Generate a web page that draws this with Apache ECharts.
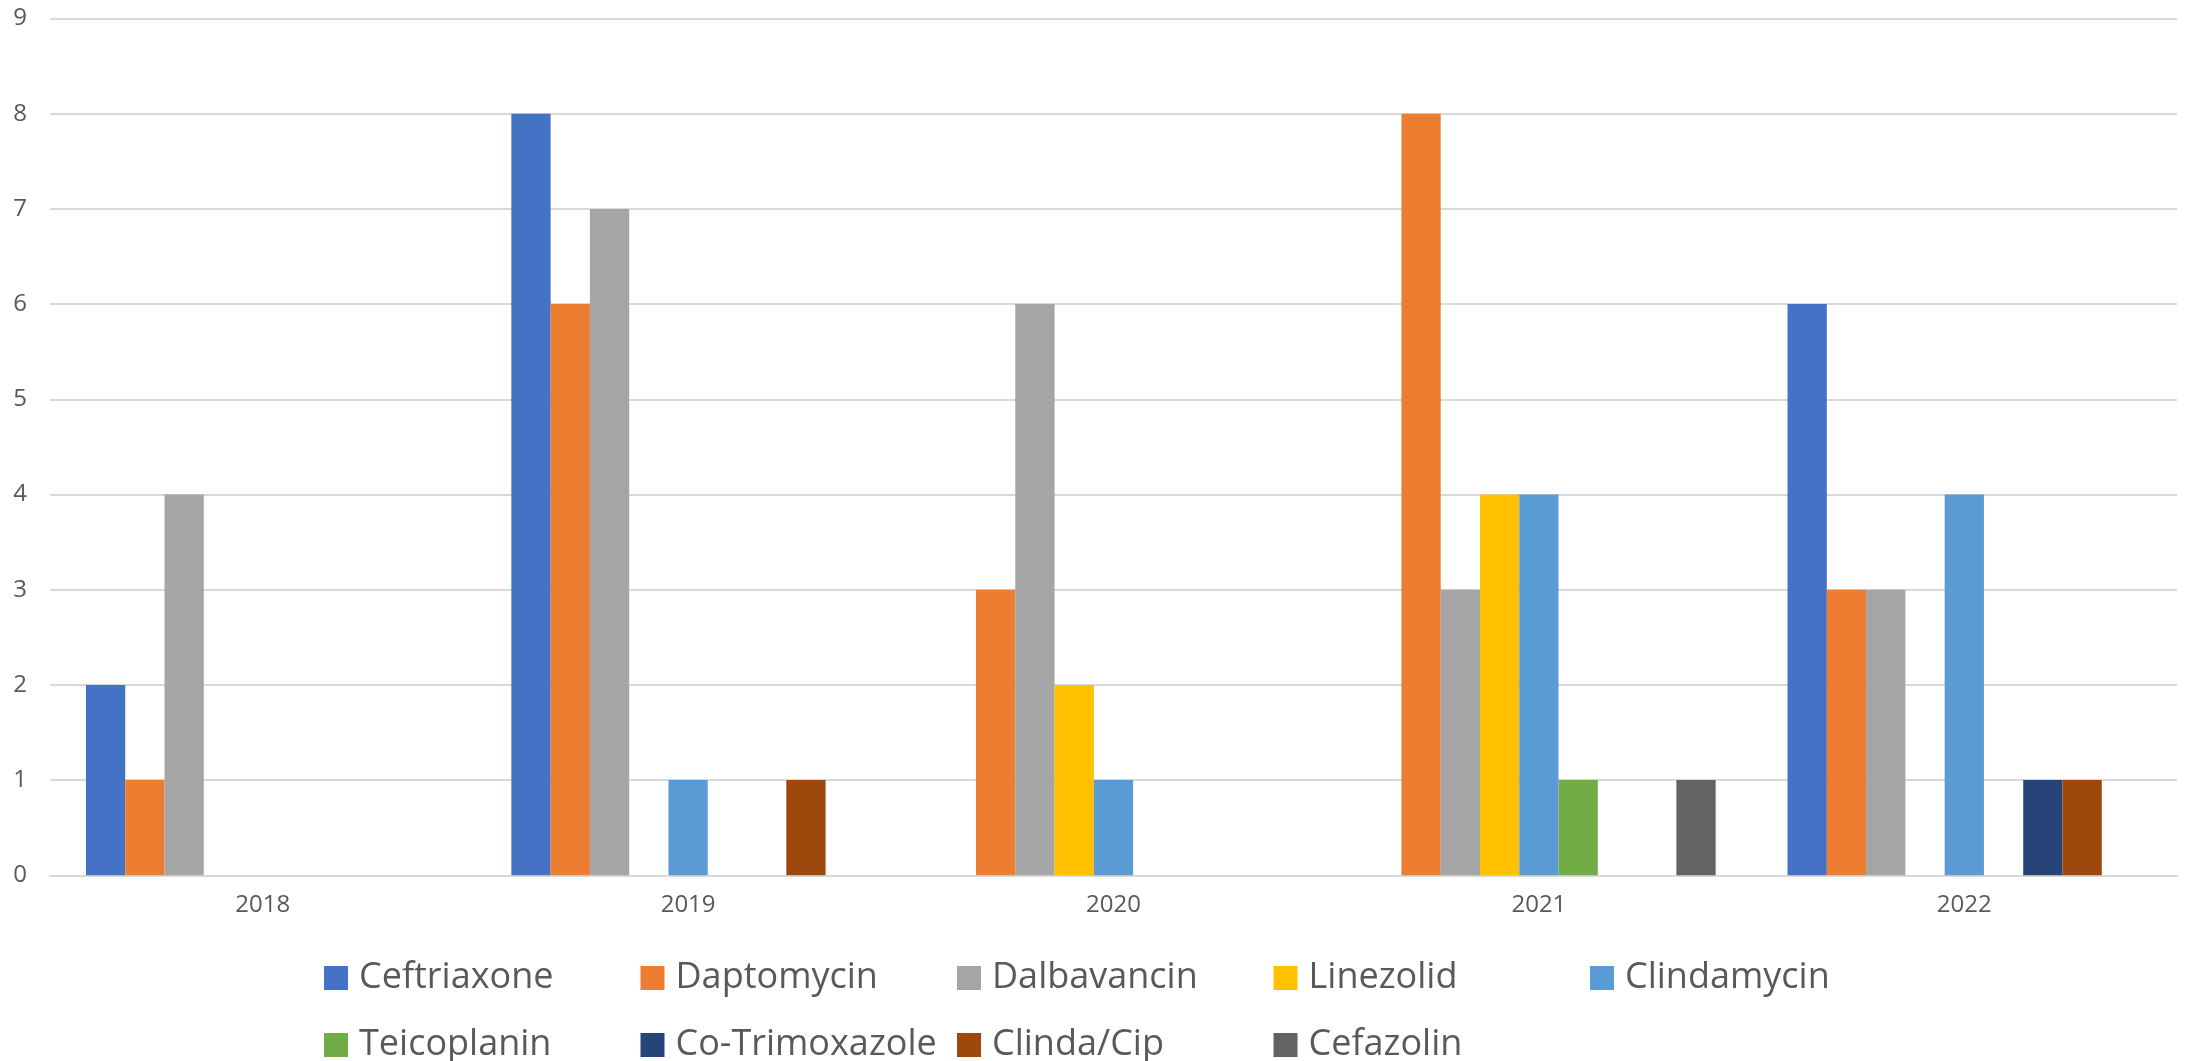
<!DOCTYPE html>
<html>
<head>
<meta charset="utf-8">
<script src="https://cdn.jsdelivr.net/npm/echarts@6/dist/echarts.min.js"></script>
<style>
  html, body { margin: 0; padding: 0; background: #fff; }
  #chart { width: 2188px; height: 1061px; }
</style>
</head>
<body>
<div id="chart"></div>
<script>
// Antibiotic use counts per year
const years = ['2018', '2019', '2020', '2021', '2022'];
const drugNames = ['Ceftriaxone', 'Daptomycin', 'Dalbavancin', 'Linezolid', 'Clindamycin',
                   'Teicoplanin', 'Co-Trimoxazole', 'Clinda/Cip', 'Cefazolin'];
const ceftriaxone   = [2, 8, 0, 0, 6];
const daptomycin    = [1, 6, 3, 8, 3];
const dalbavancin   = [4, 7, 6, 3, 3];
const linezolid     = [0, 0, 2, 4, 0];
const clindamycin   = [0, 1, 1, 4, 4];
const teicoplanin   = [0, 0, 0, 1, 0];
const coTrimoxazole = [0, 0, 0, 0, 1];
const clindaCip     = [0, 1, 0, 0, 1];
const cefazolin     = [0, 0, 0, 1, 0];
const yTicks = [0, 1, 2, 3, 4, 5, 6, 7, 8, 9];

const seriesValues = [ceftriaxone, daptomycin, dalbavancin, linezolid, clindamycin,
                      teicoplanin, coTrimoxazole, clindaCip, cefazolin];
const palette = ['#4472C4', '#ED7D31', '#A5A5A5', '#FFC000', '#5B9BD5',
                 '#70AD47', '#264478', '#9E480E', '#636363'];

const FONT = '"Liberation Sans Narrow", "Open Sans", sans-serif';
const TEXT = '#595959';

// Legend laid out as a 5-column grid, two rows
const legends = drugNames.map((name, i) => ({
  data: [name],
  left: 324 + (i % 5) * 316.5,
  top: 960 + Math.floor(i / 5) * 67,
  orient: 'horizontal',
  icon: 'rect',
  itemWidth: 24,
  itemHeight: 24,
  padding: 0,
  textStyle: { color: TEXT, fontSize: 36, fontFamily: FONT, padding: [0, 0, 0, 6] }
}));

const chart = echarts.init(document.getElementById('chart'), null, { renderer: 'canvas' });
chart.setOption({
  animation: false,
  backgroundColor: '#ffffff',
  color: palette,
  legend: legends,
  grid: { left: 50, right: 11, top: 18.5, bottom: 185.7, containLabel: false },
  xAxis: {
    type: 'category',
    data: years,
    axisTick: { show: false },
    axisLine: { lineStyle: { color: '#D9D9D9', width: 2 } },
    axisLabel: { color: TEXT, fontSize: 24, fontFamily: FONT, margin: 18 }
  },
  yAxis: {
    type: 'value',
    min: yTicks[0],
    max: yTicks[yTicks.length - 1],
    interval: 1,
    axisLine: { show: false },
    axisTick: { show: false },
    splitLine: { lineStyle: { color: '#D9D9D9', width: 2 } },
    axisLabel: { color: TEXT, fontSize: 24, fontFamily: FONT, margin: 23 }
  },
  series: drugNames.map((name, i) => ({
    name: name,
    type: 'bar',
    data: seriesValues[i],
    barGap: '0%',
    barCategoryGap: '16.9%',
    itemStyle: { color: palette[i] }
  }))
});
</script>
</body>
</html>
